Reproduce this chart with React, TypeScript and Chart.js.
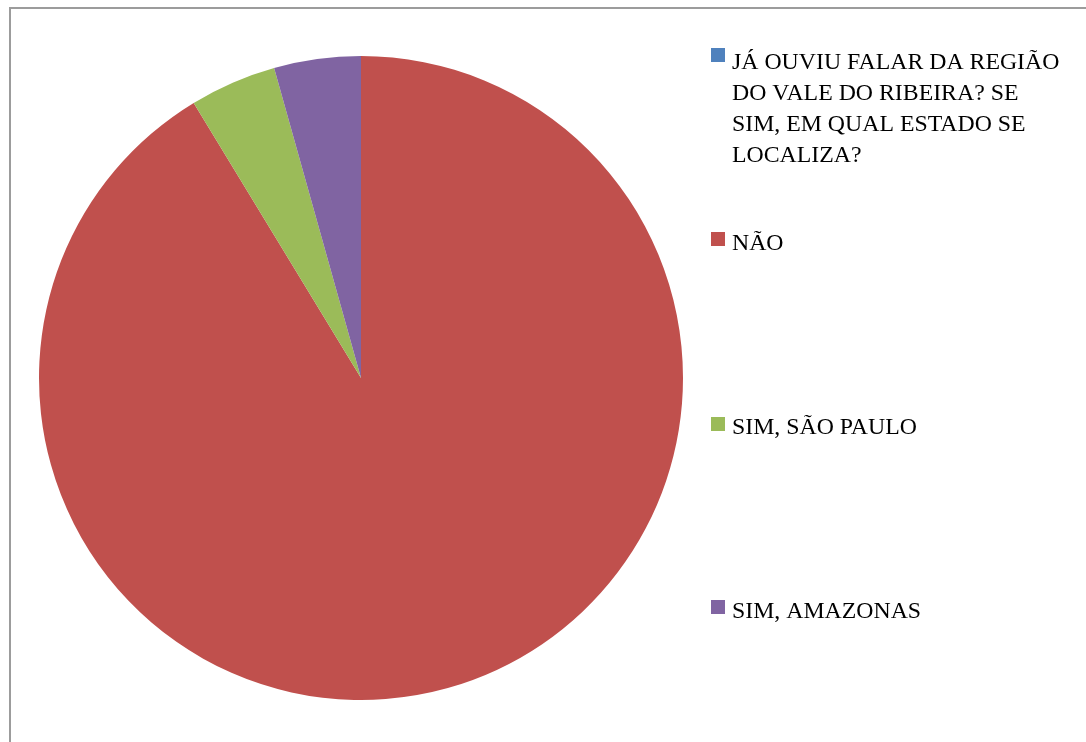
import React, { useEffect, useRef } from "react";
import { Chart, registerables } from "chart.js";

Chart.register(...registerables);

const categories: string[] = [
  "JÁ OUVIU FALAR DA REGIÃO DO VALE DO RIBEIRA? SE SIM, EM QUAL ESTADO SE LOCALIZA?",
  "NÃO",
  "SIM, SÃO PAULO",
  "SIM, AMAZONAS",
];
const legendLines: string[][] = [
  ["JÁ OUVIU FALAR DA REGIÃO", "DO VALE DO RIBEIRA? SE", "SIM, EM QUAL ESTADO SE", "LOCALIZA?"],
  ["NÃO"],
  ["SIM, SÃO PAULO"],
  ["SIM, AMAZONAS"],
];
const values: number[] = [0, 42, 2, 2];
const colors: string[] = ["#4F81BD", "#C0504D", "#9BBB59", "#8064A2"];

const FONT = "23.8px 'Liberation Serif', 'Times New Roman', serif";

const legendPlugin = {
  id: "customLegend",
  afterDraw(chart: any) {
    const ctx = chart.ctx;
    const baselines = [69, 250, 434, 618];
    const boxTops = [48, 232, 417, 600];
    const lineH = 31;
    ctx.save();
    ctx.font = FONT;
    ctx.textBaseline = "alphabetic";
    ctx.textAlign = "left";
    legendLines.forEach((lines, i) => {
      const b = baselines[i];
      ctx.fillStyle = colors[i];
      ctx.fillRect(711, boxTops[i], 14, 14);
      ctx.fillStyle = "#000";
      lines.forEach((ln, j) => {
        ctx.fillText(ln, 732, b + j * lineH);
      });
    });
    ctx.restore();
  },
};

export default function App() {
  const ref = useRef<HTMLCanvasElement | null>(null);
  useEffect(() => {
    if (!ref.current) return;
    const chart = new Chart(ref.current, {
      type: "pie",
      data: {
        labels: categories,
        datasets: [
          {
            data: values,
            backgroundColor: colors,
            borderWidth: 0,
          },
        ],
      },
      options: {
        responsive: false,
        animation: false,
        layout: { padding: { left: 39, right: 403, top: 56, bottom: 42 } },
        plugins: {
          legend: { display: false },
          tooltip: { enabled: false },
        },
      },
      plugins: [legendPlugin],
    });
    return () => chart.destroy();
  }, []);
  return (
    <div
      style={{
        position: "fixed",
        left: 0,
        top: 0,
        width: 1086,
        height: 742,
        overflow: "hidden",
        background: "#fff",
      }}
    >
      <div
        style={{
          position: "absolute",
          left: 9,
          top: 7,
          width: 1200,
          height: 900,
          border: "2px solid #9c9c9c",
          boxSizing: "border-box",
        }}
      />
      <canvas
        ref={ref}
        width={1086}
        height={742}
        style={{ position: "absolute", left: 0, top: 0, width: 1086, height: 742 }}
      />
    </div>
  );
}
